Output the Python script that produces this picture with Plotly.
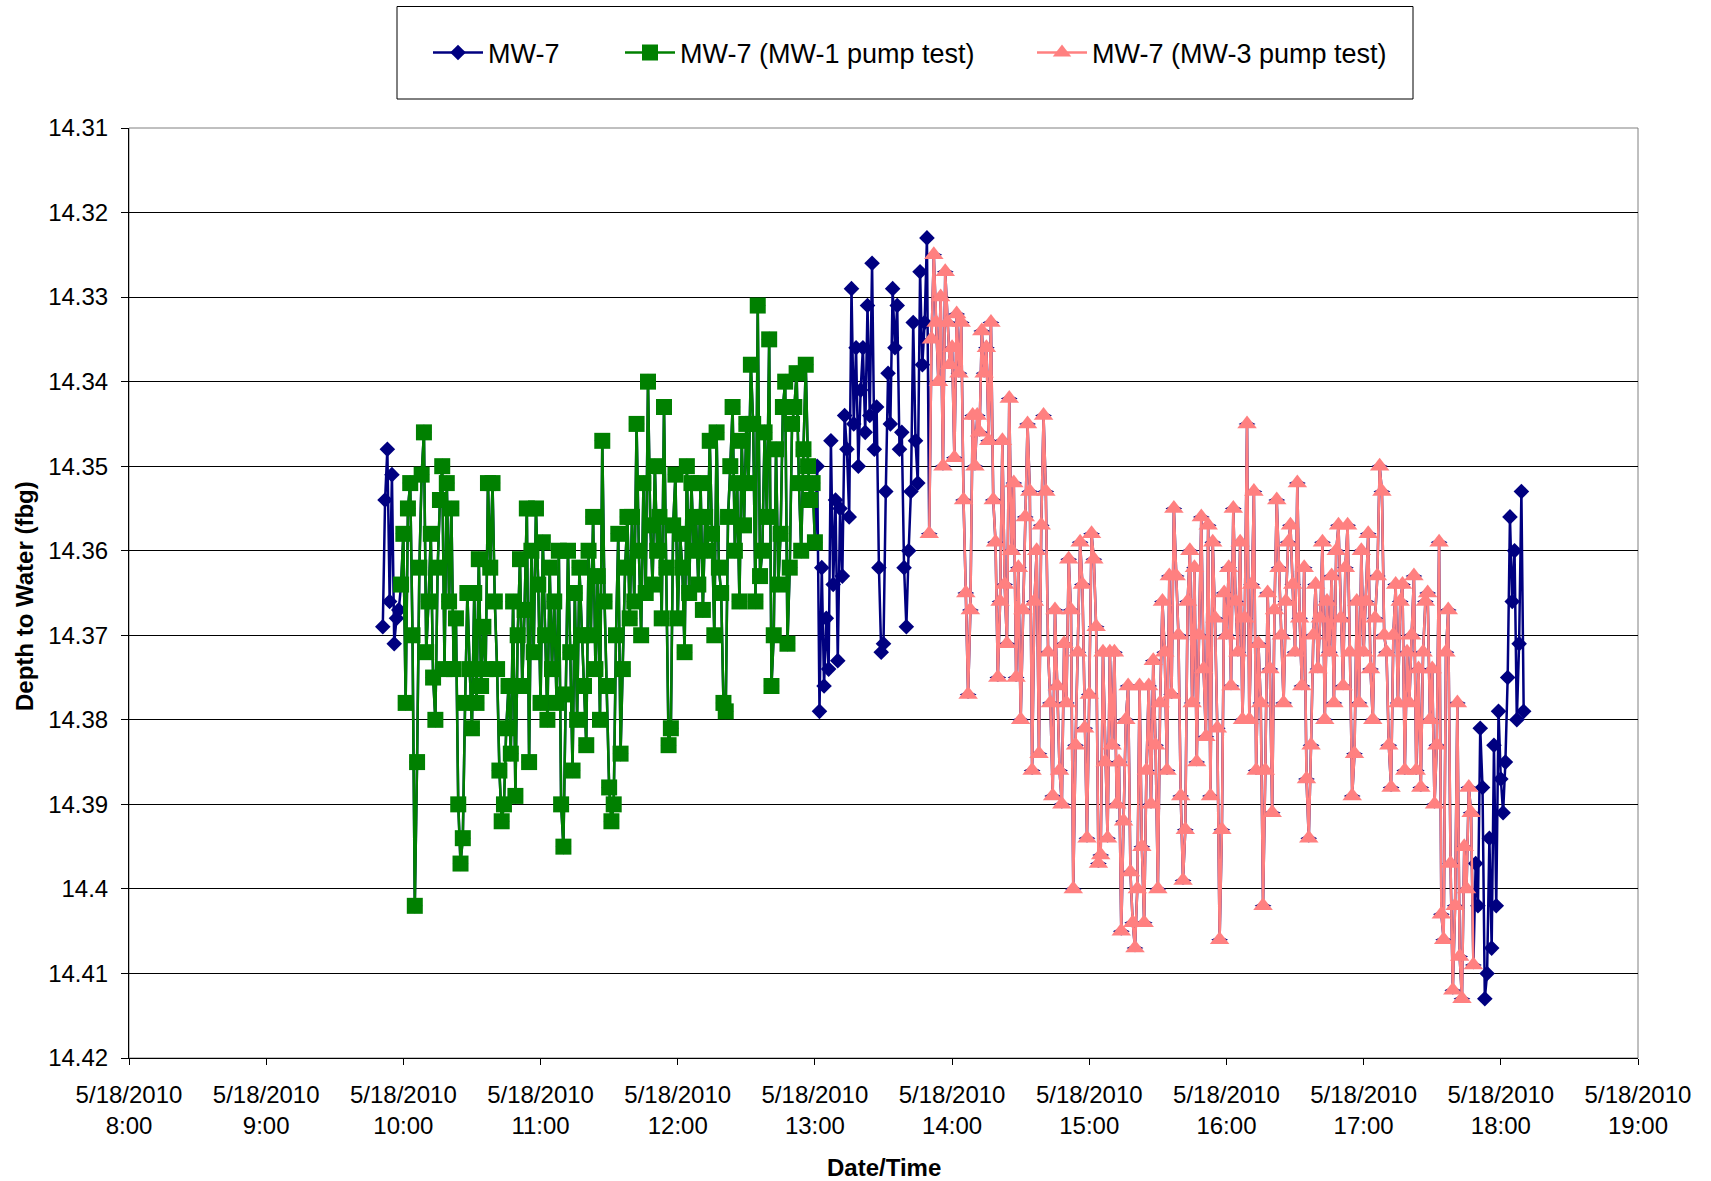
import pandas as pd
import plotly.graph_objects as go

# ---------------- data (depth to water, fbg; 1-minute readings) ----------------
mw7_start_time = "2010-05-18 09:51"
mw7_start = [14.369, 14.354, 14.348, 14.366, 14.351, 14.371, 14.368, 14.367]

mw1_test_start_time = "2010-05-18 09:59"
mw1_test = [
    14.364, 14.358, 14.378, 14.355, 14.352, 14.370, 14.402, 14.385, 14.362, 14.351,
    14.346, 14.372, 14.366, 14.358, 14.375, 14.380, 14.362, 14.354, 14.350, 14.374,
    14.352, 14.366, 14.355, 14.374, 14.368, 14.390, 14.397, 14.394, 14.378, 14.365,
    14.374, 14.381, 14.365, 14.378, 14.361, 14.376, 14.369, 14.374, 14.352, 14.362,
    14.352, 14.366, 14.374, 14.386, 14.392, 14.390, 14.381, 14.376, 14.384, 14.366,
    14.389, 14.370, 14.361, 14.376, 14.367, 14.355, 14.385, 14.360, 14.372, 14.355,
    14.364, 14.378, 14.359, 14.370, 14.380, 14.362, 14.374, 14.366, 14.378, 14.360,
    14.390, 14.395, 14.377, 14.360, 14.372, 14.386, 14.365, 14.380, 14.362, 14.370,
    14.376, 14.383, 14.360, 14.370, 14.356, 14.374, 14.363, 14.380, 14.347, 14.366,
    14.376, 14.388, 14.392, 14.390, 14.370, 14.358, 14.384, 14.374, 14.362, 14.356,
    14.368, 14.356, 14.366, 14.345, 14.360, 14.370, 14.352, 14.365, 14.340, 14.357,
    14.364, 14.350, 14.360, 14.356, 14.368, 14.343, 14.362, 14.383, 14.381, 14.357,
    14.351, 14.368, 14.358, 14.362, 14.372, 14.350, 14.365, 14.352, 14.360, 14.356,
    14.364, 14.352, 14.367, 14.356, 14.360, 14.347, 14.358, 14.370, 14.346, 14.362,
    14.365, 14.378, 14.379, 14.356, 14.350, 14.343, 14.360, 14.352, 14.366, 14.347,
    14.357, 14.345, 14.352, 14.338, 14.345, 14.366, 14.331, 14.363, 14.360, 14.346,
    14.356, 14.335, 14.376, 14.370, 14.348, 14.364, 14.358, 14.343, 14.340, 14.371,
    14.362, 14.345, 14.343, 14.339, 14.352, 14.360, 14.348, 14.338, 14.350, 14.354,
    14.352, 14.359,
]

mw7_mid_time = "2010-05-18 13:01"
mw7_mid = [
    14.350, 14.379, 14.362, 14.376, 14.368, 14.374, 14.347, 14.364, 14.354, 14.373,
    14.355, 14.363, 14.344, 14.348, 14.356, 14.329, 14.345, 14.336, 14.350, 14.341,
    14.336, 14.346, 14.331, 14.344, 14.326, 14.348, 14.343, 14.362, 14.372, 14.371,
    14.353, 14.339, 14.345, 14.329, 14.336, 14.331, 14.348, 14.346, 14.362, 14.369,
    14.360, 14.353, 14.333, 14.347, 14.352, 14.327, 14.338, 14.333, 14.323,
]

mw3_test_start_time = "2010-05-18 13:50"
mw3_test = [
    14.358, 14.335, 14.325, 14.333, 14.340, 14.330, 14.350, 14.327, 14.333, 14.338,
    14.336, 14.349, 14.332, 14.339, 14.333, 14.354, 14.365, 14.377, 14.367, 14.344,
    14.350, 14.344, 14.346, 14.334, 14.339, 14.336, 14.347, 14.333, 14.354, 14.359,
    14.375, 14.366, 14.347, 14.364, 14.371, 14.342, 14.360, 14.352, 14.375, 14.362,
    14.380, 14.367, 14.356, 14.345, 14.353, 14.386, 14.366, 14.360, 14.384, 14.357,
    14.344, 14.353, 14.372, 14.378, 14.389, 14.367, 14.376, 14.386, 14.390, 14.371,
    14.378, 14.361, 14.367, 14.400, 14.383, 14.372, 14.359, 14.364, 14.381, 14.394,
    14.377, 14.358, 14.361, 14.369, 14.397, 14.396, 14.372, 14.385, 14.394, 14.372,
    14.383, 14.372, 14.390, 14.385, 14.405, 14.392, 14.380, 14.376, 14.398, 14.404,
    14.407, 14.400, 14.376, 14.395, 14.404, 14.386, 14.376, 14.390, 14.373, 14.383,
    14.400, 14.378, 14.366, 14.372, 14.386, 14.363, 14.377, 14.355, 14.363, 14.370,
    14.389, 14.399, 14.393, 14.366, 14.360, 14.378, 14.362, 14.385, 14.370, 14.356,
    14.374, 14.382, 14.357, 14.389, 14.359, 14.368, 14.381, 14.406, 14.393, 14.365,
    14.370, 14.362, 14.376, 14.355, 14.366, 14.372, 14.359, 14.380, 14.368, 14.345,
    14.380, 14.364, 14.353, 14.386, 14.371, 14.378, 14.402, 14.386, 14.365, 14.374,
    14.391, 14.367, 14.354, 14.362, 14.370, 14.378, 14.366, 14.359, 14.357, 14.364,
    14.372, 14.352, 14.368, 14.376, 14.362, 14.387, 14.394, 14.383, 14.370, 14.364,
    14.374, 14.368, 14.359, 14.380, 14.366, 14.372, 14.363, 14.378, 14.360, 14.357,
    14.368, 14.376, 14.362, 14.357, 14.372, 14.389, 14.384, 14.366, 14.378, 14.360,
    14.372, 14.366, 14.358, 14.374, 14.380, 14.368, 14.363, 14.350, 14.353, 14.370,
    14.372, 14.383, 14.388, 14.370, 14.364, 14.378, 14.366, 14.364, 14.386, 14.372,
    14.378, 14.370, 14.363, 14.386, 14.374, 14.388, 14.372, 14.366, 14.365, 14.380,
    14.374, 14.390, 14.383, 14.359, 14.403, 14.406, 14.372, 14.367, 14.397, 14.412,
    14.402, 14.378, 14.408, 14.413, 14.395, 14.400, 14.388, 14.391, 14.409,
]

mw7_end_time = "2010-05-18 17:49"
mw7_end = [
    14.397, 14.402, 14.381, 14.388, 14.413, 14.410, 14.394, 14.407, 14.383, 14.402,
    14.379, 14.387, 14.391, 14.385, 14.375, 14.356, 14.366, 14.360, 14.380, 14.371,
    14.353, 14.379,
]

y_ticks = [14.31, 14.32, 14.33, 14.34, 14.35, 14.36, 14.37, 14.38, 14.39, 14.40, 14.41, 14.42]
y_ticktext = ["14.31", "14.32", "14.33", "14.34", "14.35", "14.36", "14.37", "14.38",
              "14.39", "14.4", "14.41", "14.42"]
x_hours = [8, 9, 10, 11, 12, 13, 14, 15, 16, 17, 18, 19]
x_ticktext = ["5/18/2010<br>%d:00" % h for h in x_hours]
x_tickvals = [pd.Timestamp("2010-05-18") + pd.Timedelta(hours=h) for h in x_hours]

names = ["MW-7", "MW-7 (MW-1 pump test)", "MW-7 (MW-3 pump test)"]

# ---------------- build series ----------------
def times(start, vals):
    return pd.date_range(start, periods=len(vals), freq="1min")

t_start = times(mw7_start_time, mw7_start)
t_mw1 = times(mw1_test_start_time, mw1_test)
t_mid = times(mw7_mid_time, mw7_mid)
t_mw3 = times(mw3_test_start_time, mw3_test)
t_end = times(mw7_end_time, mw7_end)

mw7_t = list(t_start) + list(t_mw1) + list(t_mid) + list(t_mw3) + list(t_end)
mw7_v = mw7_start + mw1_test + mw7_mid + mw3_test + mw7_end

# MW-7 markers that sit under the MW-3 triangles only show as side flecks
mw3_set = set(t_mw3)
mw7_sym = ["diamond-wide" if t in mw3_set else "diamond" for t in mw7_t]

FONT = "Liberation Sans, Arial, sans-serif"

fig = go.Figure()
fig.add_trace(go.Scatter(
    x=mw7_t, y=mw7_v, name=names[0], mode="lines+markers",
    line=dict(color="#000080", width=2.5),
    marker=dict(symbol=mw7_sym, size=12, color="#000080", opacity=1,
                line=dict(width=0)),
    legend="legend"))
fig.add_trace(go.Scatter(
    x=t_mw1, y=mw1_test, name=names[1], mode="lines+markers",
    line=dict(color="#008000", width=2.5),
    marker=dict(symbol="square", size=16, color="#008000", opacity=1,
                line=dict(width=0)),
    legend="legend2"))
fig.add_trace(go.Scatter(
    x=t_mw3, y=mw3_test, name=names[2], mode="lines+markers",
    line=dict(color="#FF8080", width=2.5),
    marker=dict(symbol="triangle-up", size=17, color="#FF8080", opacity=1,
                line=dict(width=0)),
    legend="legend3"))

L, R, T, B = 129, 73, 128, 123
PW, PH = 1711 - L - R, 1181 - T - B

def px_x(xpx):
    return (xpx - L) / PW

def px_y(ypx):
    return 1 - (ypx - T) / PH

leg_common = dict(bgcolor="rgba(0,0,0,0)", borderwidth=0,
                  font=dict(family=FONT, size=27, color="black"),
                  xanchor="left", yanchor="middle", orientation="h",
                  itemwidth=50)

fig.update_layout(
    width=1711, height=1181,
    margin=dict(l=L, r=R, t=T, b=B),
    paper_bgcolor="white", plot_bgcolor="white",
    font=dict(family=FONT, size=24, color="black"),
    legend=dict(x=px_x(428), y=px_y(53), **leg_common),
    legend2=dict(x=px_x(620), y=px_y(53), **leg_common),
    legend3=dict(x=px_x(1032), y=px_y(53), **leg_common),
    xaxis=dict(
        type="date",
        range=[x_tickvals[0], x_tickvals[-1]],
        tickvals=x_tickvals, ticktext=x_ticktext,
        showgrid=False, zeroline=False,
        showline=True, linecolor="black", linewidth=1,
        ticks="outside", ticklen=6, tickcolor="black",
        tickfont=dict(family=FONT, size=24, color="black"),
        ticklabelstandoff=9,
    ),
    yaxis=dict(
        range=[14.42, 14.31],
        tickvals=y_ticks, ticktext=y_ticktext,
        showgrid=True, gridcolor="black", gridwidth=1,
        zeroline=False,
        showline=True, linecolor="black", linewidth=1,
        ticks="outside", ticklen=7, tickcolor="black",
        tickfont=dict(family=FONT, size=24, color="black"),
        ticklabelstandoff=8,
    ),
    shapes=[
        dict(type="rect", xref="paper", yref="paper", x0=0, x1=1, y0=0, y1=1,
             line=dict(color="#808080", width=1), layer="below"),
        dict(type="rect", xref="paper", yref="paper",
             x0=px_x(397), x1=px_x(1413), y0=px_y(99), y1=px_y(6.5),
             line=dict(color="black", width=1), fillcolor="rgba(0,0,0,0)"),
    ],
    annotations=[
        dict(text="<b>Date/Time</b>", xref="paper", yref="paper",
             x=0.5, y=px_y(1167), xanchor="center", yanchor="middle",
             showarrow=False, font=dict(family=FONT, size=24, color="black")),
        dict(text="<b>Depth to Water (fbg)</b>", xref="paper", yref="paper",
             x=px_x(24), y=px_y(596), xanchor="center", yanchor="middle",
             textangle=-90, showarrow=False,
             font=dict(family=FONT, size=24, color="black")),
    ],
    showlegend=True,
)

fig.write_html("out.html", config={"displayModeBar": False},
               post_script="document.body.style.margin='0';document.body.style.overflow='hidden';")
